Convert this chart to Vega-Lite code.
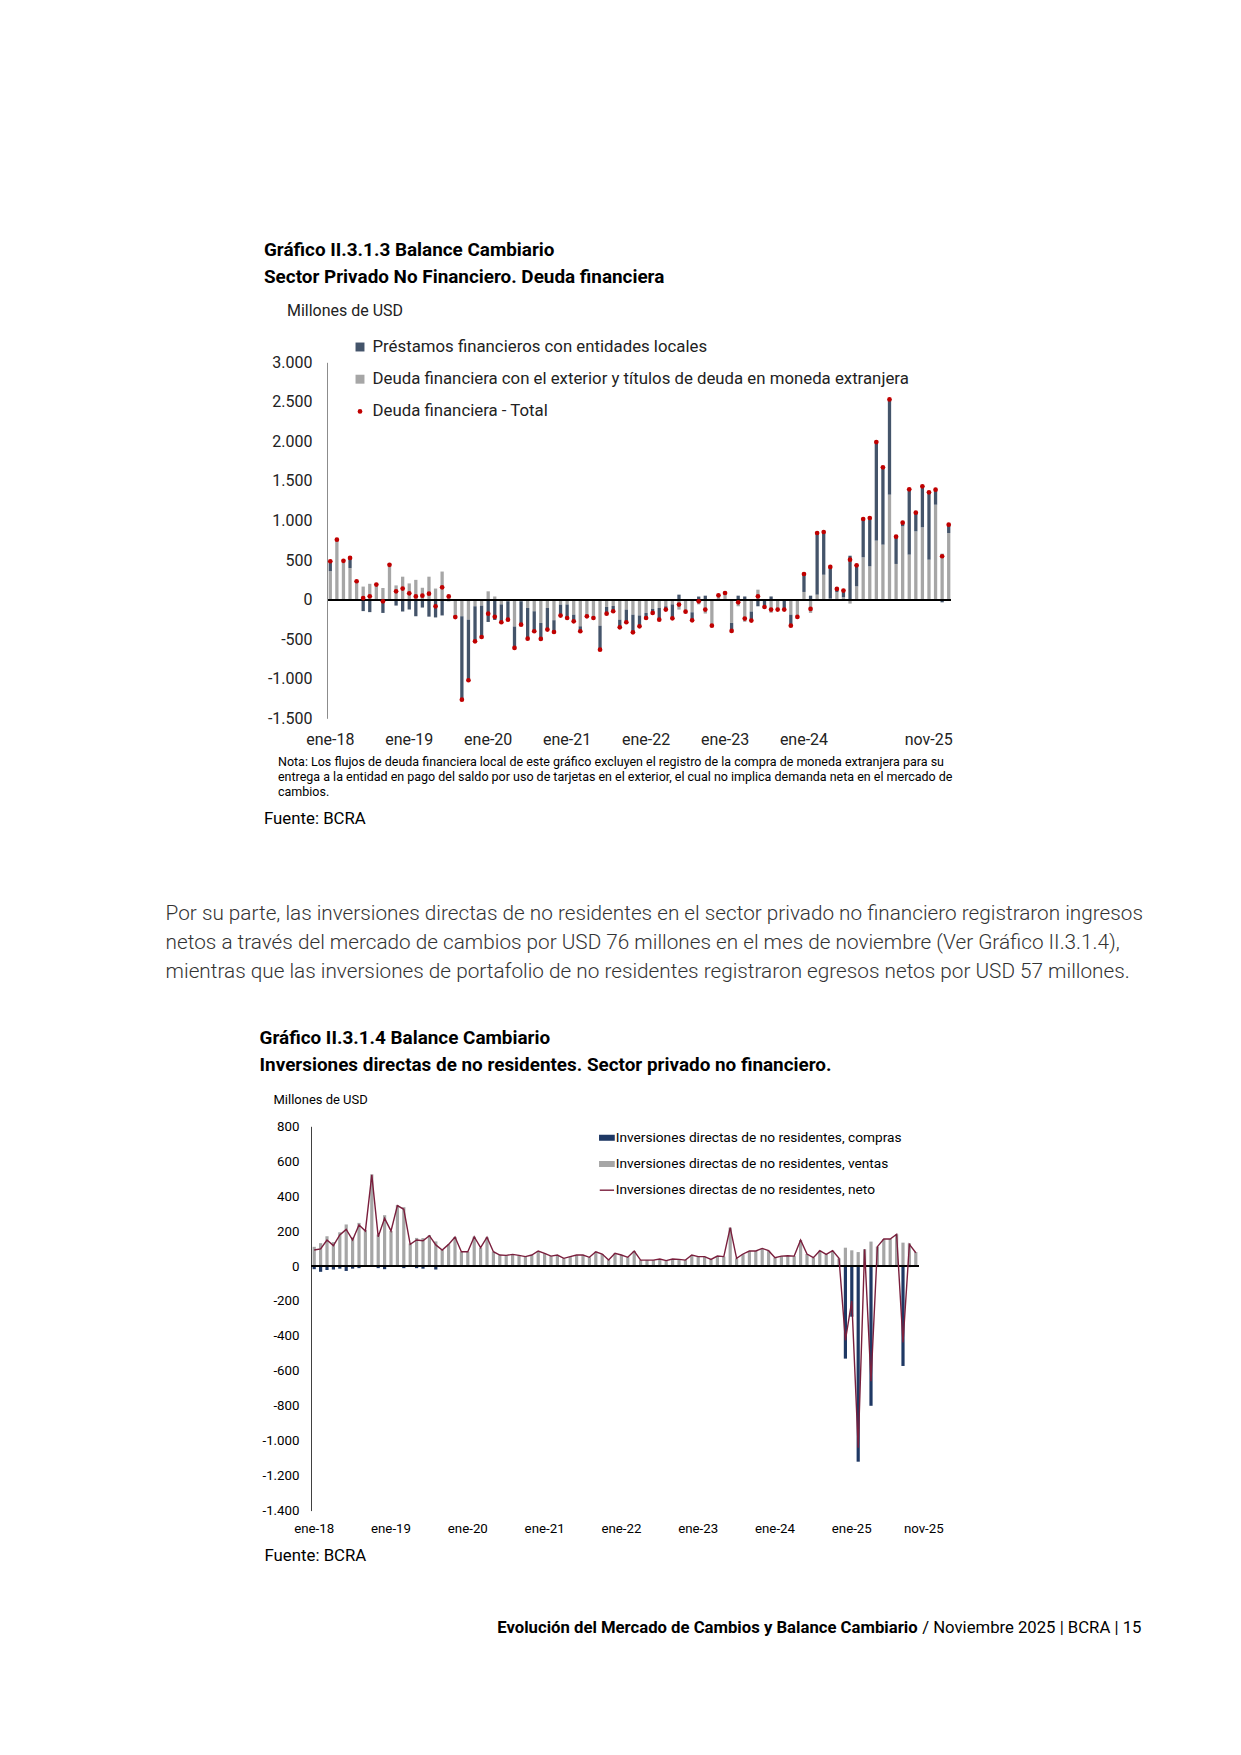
{
  "$schema": "https://vega.github.io/schema/vega-lite/v6.json",
  "autosize": {"type": "none"},
  "padding": {"left": 311, "top": 362.3, "right": 930, "bottom": 1393},
  "background": "white",
  "bounds": "flush",
  "spacing": 0,
  "resolve": {"scale": {"color": "independent", "x": "independent", "y": "independent"}, "legend": {"color": "independent"}},
  "config": {
    "font": "Roboto",
    "view": {"stroke": null},
    "axis": {"labelFont": "Roboto", "titleFont": "Roboto", "labelOverlap": false},
    "axisY": {"labelOverlap": false},
    "legend": {"labelFont": "Roboto", "titleFont": "Roboto"},
    "title": {"font": "Roboto", "subtitleFont": "Roboto", "color": "#000000"}
  },
  "datasets": {
    "deuda": [
      {"mes": "2018-01", "G": 360, "L": 125, "T": 485},
      {"mes": "2018-02", "G": 758, "L": 0, "T": 758},
      {"mes": "2018-03", "G": 490, "L": 0, "T": 490},
      {"mes": "2018-04", "G": 400, "L": 127, "T": 527},
      {"mes": "2018-05", "G": 232, "L": 0, "T": 232},
      {"mes": "2018-06", "G": 165, "L": -145, "T": 20},
      {"mes": "2018-07", "G": 200, "L": -158, "T": 42},
      {"mes": "2018-08", "G": 190, "L": 0, "T": 190},
      {"mes": "2018-09", "G": 147, "L": -168, "T": -21},
      {"mes": "2018-10", "G": 450, "L": -10, "T": 440},
      {"mes": "2018-11", "G": 180, "L": -75, "T": 105},
      {"mes": "2018-12", "G": 290, "L": -150, "T": 140},
      {"mes": "2019-01", "G": 205, "L": -125, "T": 80},
      {"mes": "2019-02", "G": 250, "L": -210, "T": 40},
      {"mes": "2019-03", "G": 150, "L": -100, "T": 50},
      {"mes": "2019-04", "G": 290, "L": -215, "T": 75},
      {"mes": "2019-05", "G": 140, "L": -225, "T": -85},
      {"mes": "2019-06", "G": 355, "L": -200, "T": 155},
      {"mes": "2019-07", "G": 60, "L": -20, "T": 40},
      {"mes": "2019-08", "G": -220, "L": 0, "T": -220},
      {"mes": "2019-09", "G": -210, "L": -1055, "T": -1265},
      {"mes": "2019-10", "G": -253, "L": -766, "T": -1019},
      {"mes": "2019-11", "G": -84, "L": -443, "T": -527},
      {"mes": "2019-12", "G": -76, "L": -396, "T": -472},
      {"mes": "2020-01", "G": 105, "L": -282, "T": -177},
      {"mes": "2020-02", "G": 40, "L": -257, "T": -217},
      {"mes": "2020-03", "G": -60, "L": -226, "T": -286},
      {"mes": "2020-04", "G": -20, "L": -233, "T": -253},
      {"mes": "2020-05", "G": -340, "L": -271, "T": -611},
      {"mes": "2020-06", "G": -20, "L": -296, "T": -316},
      {"mes": "2020-07", "G": -105, "L": -388, "T": -493},
      {"mes": "2020-08", "G": -147, "L": -253, "T": -400},
      {"mes": "2020-09", "G": -295, "L": -202, "T": -497},
      {"mes": "2020-10", "G": -105, "L": -274, "T": -379},
      {"mes": "2020-11", "G": -260, "L": -149, "T": -409},
      {"mes": "2020-12", "G": -63, "L": -139, "T": -202},
      {"mes": "2021-01", "G": -63, "L": -169, "T": -232},
      {"mes": "2021-02", "G": -190, "L": -84, "T": -274},
      {"mes": "2021-03", "G": -337, "L": -63, "T": -400},
      {"mes": "2021-04", "G": -190, "L": -21, "T": -211},
      {"mes": "2021-05", "G": -210, "L": -22, "T": -232},
      {"mes": "2021-06", "G": -329, "L": -303, "T": -632},
      {"mes": "2021-07", "G": -93, "L": -84, "T": -177},
      {"mes": "2021-08", "G": -80, "L": -67, "T": -147},
      {"mes": "2021-09", "G": -253, "L": -97, "T": -350},
      {"mes": "2021-10", "G": -126, "L": -160, "T": -286},
      {"mes": "2021-11", "G": -190, "L": -223, "T": -413},
      {"mes": "2021-12", "G": -200, "L": -137, "T": -337},
      {"mes": "2022-01", "G": -168, "L": -64, "T": -232},
      {"mes": "2022-02", "G": -118, "L": -50, "T": -168},
      {"mes": "2022-03", "G": -105, "L": -148, "T": -253},
      {"mes": "2022-04", "G": -84, "L": -42, "T": -126},
      {"mes": "2022-05", "G": -60, "L": -176, "T": -236},
      {"mes": "2022-06", "G": -126, "L": 63, "T": -63},
      {"mes": "2022-07", "G": -152, "L": 0, "T": -152},
      {"mes": "2022-08", "G": -160, "L": -101, "T": -261},
      {"mes": "2022-09", "G": -60, "L": 39, "T": -21},
      {"mes": "2022-10", "G": -176, "L": 50, "T": -126},
      {"mes": "2022-11", "G": -329, "L": 0, "T": -329},
      {"mes": "2022-12", "G": 55, "L": 0, "T": 55},
      {"mes": "2023-01", "G": 100, "L": -16, "T": 84},
      {"mes": "2023-02", "G": -295, "L": -101, "T": -396},
      {"mes": "2023-03", "G": -84, "L": 50, "T": -34},
      {"mes": "2023-04", "G": -280, "L": 40, "T": -240},
      {"mes": "2023-05", "G": -150, "L": -115, "T": -265},
      {"mes": "2023-06", "G": 126, "L": -84, "T": 42},
      {"mes": "2023-07", "G": 0, "L": -93, "T": -93},
      {"mes": "2023-08", "G": -166, "L": 40, "T": -126},
      {"mes": "2023-09", "G": -126, "L": 0, "T": -126},
      {"mes": "2023-10", "G": -16, "L": -110, "T": -126},
      {"mes": "2023-11", "G": -190, "L": -139, "T": -329},
      {"mes": "2023-12", "G": -200, "L": -19, "T": -219},
      {"mes": "2024-01", "G": 97, "L": 227, "T": 324},
      {"mes": "2024-02", "G": -168, "L": 50, "T": -118},
      {"mes": "2024-03", "G": 63, "L": 779, "T": 842},
      {"mes": "2024-04", "G": 316, "L": 539, "T": 855},
      {"mes": "2024-05", "G": 13, "L": 400, "T": 413},
      {"mes": "2024-06", "G": 95, "L": 40, "T": 135},
      {"mes": "2024-07", "G": 30, "L": 84, "T": 114},
      {"mes": "2024-08", "G": -50, "L": 555, "T": 505},
      {"mes": "2024-09", "G": 168, "L": 266, "T": 434},
      {"mes": "2024-10", "G": 535, "L": 484, "T": 1019},
      {"mes": "2024-11", "G": 421, "L": 611, "T": 1032},
      {"mes": "2024-12", "G": 746, "L": 1246, "T": 1992},
      {"mes": "2025-01", "G": 695, "L": 977, "T": 1672},
      {"mes": "2025-02", "G": 1327, "L": 1204, "T": 2531},
      {"mes": "2025-03", "G": 451, "L": 345, "T": 796},
      {"mes": "2025-04", "G": 927, "L": 46, "T": 973},
      {"mes": "2025-05", "G": 569, "L": 825, "T": 1394},
      {"mes": "2025-06", "G": 863, "L": 236, "T": 1099},
      {"mes": "2025-07", "G": 914, "L": 518, "T": 1432},
      {"mes": "2025-08", "G": 505, "L": 851, "T": 1356},
      {"mes": "2025-09", "G": 1200, "L": 190, "T": 1390},
      {"mes": "2025-10", "G": 582, "L": -34, "T": 548},
      {"mes": "2025-11", "G": 842, "L": 106, "T": 948}
    ],
    "inv": [
      {"mes": "2018-01", "C": -18, "V": 110, "N": 92},
      {"mes": "2018-02", "C": -33, "V": 131, "N": 98},
      {"mes": "2018-03", "C": -22, "V": 171, "N": 149},
      {"mes": "2018-04", "C": -20, "V": 137, "N": 117},
      {"mes": "2018-05", "C": -15, "V": 193, "N": 178},
      {"mes": "2018-06", "C": -28, "V": 238, "N": 210},
      {"mes": "2018-07", "C": -15, "V": 164, "N": 149},
      {"mes": "2018-08", "C": -12, "V": 247, "N": 235},
      {"mes": "2018-09", "C": -5, "V": 206, "N": 201},
      {"mes": "2018-10", "C": -3, "V": 525, "N": 522},
      {"mes": "2018-11", "C": -12, "V": 180, "N": 168},
      {"mes": "2018-12", "C": -18, "V": 291, "N": 273},
      {"mes": "2019-01", "C": 0, "V": 201, "N": 201},
      {"mes": "2019-02", "C": -3, "V": 349, "N": 346},
      {"mes": "2019-03", "C": -12, "V": 337, "N": 325},
      {"mes": "2019-04", "C": -5, "V": 129, "N": 124},
      {"mes": "2019-05", "C": -12, "V": 161, "N": 149},
      {"mes": "2019-06", "C": -15, "V": 160, "N": 145},
      {"mes": "2019-07", "C": -3, "V": 177, "N": 174},
      {"mes": "2019-08", "C": -20, "V": 141, "N": 121},
      {"mes": "2019-09", "C": 0, "V": 92, "N": 92},
      {"mes": "2019-10", "C": 0, "V": 124, "N": 124},
      {"mes": "2019-11", "C": 0, "V": 166, "N": 166},
      {"mes": "2019-12", "C": 0, "V": 82, "N": 82},
      {"mes": "2020-01", "C": 0, "V": 82, "N": 82},
      {"mes": "2020-02", "C": 0, "V": 168, "N": 168},
      {"mes": "2020-03", "C": 0, "V": 105, "N": 105},
      {"mes": "2020-04", "C": 0, "V": 165, "N": 165},
      {"mes": "2020-05", "C": 0, "V": 82, "N": 82},
      {"mes": "2020-06", "C": 0, "V": 63, "N": 63},
      {"mes": "2020-07", "C": 0, "V": 61, "N": 61},
      {"mes": "2020-08", "C": 0, "V": 67, "N": 67},
      {"mes": "2020-09", "C": 0, "V": 61, "N": 61},
      {"mes": "2020-10", "C": 0, "V": 54, "N": 54},
      {"mes": "2020-11", "C": 0, "V": 63, "N": 63},
      {"mes": "2020-12", "C": 0, "V": 86, "N": 86},
      {"mes": "2021-01", "C": 0, "V": 73, "N": 73},
      {"mes": "2021-02", "C": 0, "V": 57, "N": 57},
      {"mes": "2021-03", "C": 0, "V": 63, "N": 63},
      {"mes": "2021-04", "C": 0, "V": 44, "N": 44},
      {"mes": "2021-05", "C": 0, "V": 54, "N": 54},
      {"mes": "2021-06", "C": 0, "V": 63, "N": 63},
      {"mes": "2021-07", "C": 0, "V": 63, "N": 63},
      {"mes": "2021-08", "C": 0, "V": 50, "N": 50},
      {"mes": "2021-09", "C": 0, "V": 82, "N": 82},
      {"mes": "2021-10", "C": 0, "V": 69, "N": 69},
      {"mes": "2021-11", "C": 0, "V": 34, "N": 34},
      {"mes": "2021-12", "C": 0, "V": 73, "N": 73},
      {"mes": "2022-01", "C": 0, "V": 63, "N": 63},
      {"mes": "2022-02", "C": 0, "V": 50, "N": 50},
      {"mes": "2022-03", "C": 0, "V": 86, "N": 86},
      {"mes": "2022-04", "C": 0, "V": 34, "N": 34},
      {"mes": "2022-05", "C": 0, "V": 34, "N": 34},
      {"mes": "2022-06", "C": 0, "V": 34, "N": 34},
      {"mes": "2022-07", "C": 0, "V": 40, "N": 40},
      {"mes": "2022-08", "C": 0, "V": 31, "N": 31},
      {"mes": "2022-09", "C": 0, "V": 40, "N": 40},
      {"mes": "2022-10", "C": 0, "V": 38, "N": 38},
      {"mes": "2022-11", "C": 0, "V": 34, "N": 34},
      {"mes": "2022-12", "C": 0, "V": 63, "N": 63},
      {"mes": "2023-01", "C": 0, "V": 54, "N": 54},
      {"mes": "2023-02", "C": 0, "V": 54, "N": 54},
      {"mes": "2023-03", "C": 0, "V": 38, "N": 38},
      {"mes": "2023-04", "C": 0, "V": 57, "N": 57},
      {"mes": "2023-05", "C": 0, "V": 54, "N": 54},
      {"mes": "2023-06", "C": 0, "V": 220, "N": 220},
      {"mes": "2023-07", "C": 0, "V": 44, "N": 44},
      {"mes": "2023-08", "C": 0, "V": 69, "N": 69},
      {"mes": "2023-09", "C": 0, "V": 86, "N": 86},
      {"mes": "2023-10", "C": 0, "V": 86, "N": 86},
      {"mes": "2023-11", "C": 0, "V": 101, "N": 101},
      {"mes": "2023-12", "C": 0, "V": 88, "N": 88},
      {"mes": "2024-01", "C": 0, "V": 48, "N": 48},
      {"mes": "2024-02", "C": 0, "V": 57, "N": 57},
      {"mes": "2024-03", "C": 0, "V": 59, "N": 59},
      {"mes": "2024-04", "C": 0, "V": 57, "N": 57},
      {"mes": "2024-05", "C": 0, "V": 149, "N": 149},
      {"mes": "2024-06", "C": 0, "V": 69, "N": 69},
      {"mes": "2024-07", "C": 0, "V": 48, "N": 48},
      {"mes": "2024-08", "C": 0, "V": 88, "N": 88},
      {"mes": "2024-09", "C": 0, "V": 67, "N": 67},
      {"mes": "2024-10", "C": 0, "V": 88, "N": 88},
      {"mes": "2024-11", "C": 0, "V": 44, "N": 44},
      {"mes": "2024-12", "C": -530, "V": 105, "N": -425},
      {"mes": "2025-01", "C": -290, "V": 90, "N": -200},
      {"mes": "2025-02", "C": -1120, "V": 80, "N": -1040},
      {"mes": "2025-03", "C": 0, "V": 96, "N": 96},
      {"mes": "2025-04", "C": -800, "V": 140, "N": -660},
      {"mes": "2025-05", "C": 0, "V": 111, "N": 111},
      {"mes": "2025-06", "C": 0, "V": 155, "N": 155},
      {"mes": "2025-07", "C": 0, "V": 155, "N": 155},
      {"mes": "2025-08", "C": 0, "V": 182, "N": 182},
      {"mes": "2025-09", "C": -572, "V": 134, "N": -438},
      {"mes": "2025-10", "C": -6, "V": 130, "N": 124},
      {"mes": "2025-11", "C": -4, "V": 80, "N": 76}
    ]
  },
  "vconcat": [
    {
      "width": 641,
      "height": 356,
      "data": {"name": "deuda"},
      "title": {
        "text": ["Gráfico II.3.1.3 Balance Cambiario", "Sector Privado No Financiero. Deuda financiera"],
        "anchor": "start", "frame": "group", "dx": -47, "offset": 15.8,
        "fontSize": 18.9, "fontWeight": "bold", "lineHeight": 27, "color": "#000000"
      },
      "layer": [
        {
          "transform": [{"fold": ["G", "L"], "as": ["k", "v"]}],
          "mark": {"type": "bar"},
          "encoding": {
            "x": {
              "field": "mes", "type": "ordinal",
              "scale": {"range": [16, 641], "paddingInner": 0.5, "paddingOuter": 0.25},
              "axis": {
                "labelExpr": "substring(datum.value, 5, 7) === '01' && datum.value < '2025' ? 'ene-' + substring(datum.value, 2, 4) : (datum.value === '2025-11' ? 'nov-25' : '')",
                "labelAngle": 0, "labelFontSize": 16, "labelPadding": 13, "labelColor": "#222222",
                "labelOverlap": false, "labelBound": false,
                "labelAlign": {"condition": {"test": "datum.value === '2025-11'", "value": "right"}, "value": "center"},
                "labelOffset": {"condition": {"test": "datum.value === '2025-11'", "value": 4}, "value": 0},
                "ticks": false, "domain": false, "grid": false,
                "title": ["Nota: Los flujos de deuda financiera local de este gráfico excluyen el registro de la compra de moneda extranjera para su", "entrega a la entidad en pago del saldo por uso de tarjetas en el exterior, el cual no implica demanda neta en el mercado de", "cambios."],
                "titleAnchor": "start", "titleAlign": "left", "titleBaseline": "top",
                "titleX": -33.5, "titleY": 37.4, "titleFontSize": 12.5, "titleFontWeight": "normal",
                "titleLineHeight": 15, "titleColor": "#000000", "titleLimit": 2000
              }
            },
            "y": {
              "field": "v", "type": "quantitative", "stack": "zero",
              "scale": {"domain": [-1500, 3000], "nice": false},
              "axis": {
                "tickCount": 10,
                "labelExpr": "(datum.value < 0 ? '-' : '') + (abs(datum.value) >= 1000 ? floor(abs(datum.value) / 1000) + '.' + substring(toString(1000 + abs(datum.value) % 1000), 1, 4) : toString(abs(datum.value)))",
                "labelFontSize": 16, "labelColor": "#222222", "labelPadding": 15, "labelOverlap": false, "labelBound": false, "labelFlush": false,
                "ticks": false, "grid": false, "domain": true, "domainColor": "#8c8c8c", "domainWidth": 1,
                "offset": -16,
                "title": "Millones de USD", "titleAngle": 0, "titleAlign": "left", "titleBaseline": "top",
                "titleX": -40.5, "titleY": -59.3, "titleFontSize": 16, "titleFontWeight": "normal", "titleColor": "#222222"
              }
            },
            "color": {
              "field": "k", "type": "nominal",
              "scale": {"domain": ["L", "G", "T"], "range": ["#44546a", "#a6a6a6", "#c00000"]},
              "legend": {
                "orient": "none", "legendX": 40.6, "legendY": -23.7, "title": null, "direction": "vertical",
                "labelFontSize": 16.8, "labelColor": "#222222", "labelOffset": 4.1, "rowPadding": 14.2,
                "symbolSize": 80, "symbolStrokeWidth": 0, "labelLimit": 1000, "padding": 0,
                "labelExpr": "datum.value === 'L' ? 'Préstamos financieros con entidades locales' : datum.value === 'G' ? 'Deuda financiera con el exterior y títulos de deuda en moneda extranjera' : 'Deuda financiera - Total'",
                "encode": {"symbols": {"update": {
                  "shape": {"signal": "datum.value === 'T' ? 'circle' : 'square'"},
                  "size": {"signal": "datum.value === 'T' ? 22 : 80"}
                }}}
              }
            },
            "order": {"field": "k", "sort": "ascending"}
          }
        },
        {
          "mark": {"type": "rule", "color": "#000000", "strokeWidth": 1},
          "encoding": {
            "x": {"datum": "2018-01", "type": "ordinal", "bandPosition": 0},
            "x2": {"datum": "2025-11", "bandPosition": 1},
            "y": {"datum": 0, "type": "quantitative"}
          }
        },
        {
          "mark": {"type": "circle", "size": 22, "opacity": 1},
          "encoding": {
            "x": {"field": "mes", "type": "ordinal"},
            "y": {"field": "T", "type": "quantitative"},
            "color": {"datum": "T", "type": "nominal", "legend": null}
          }
        }
      ]
    },
    {
      "width": 641,
      "height": 130,
      "data": {"values": []},
      "mark": "rule",
      "encoding": {},
      "title": {"text": "Fuente: BCRA", "anchor": "start", "frame": "group", "dx": -47, "offset": -109.2, "fontSize": 16.8, "fontWeight": "normal", "color": "#000000"}
    },
    {
      "width": 641,
      "height": 278,
      "data": {"values": []},
      "mark": "rule",
      "encoding": {},
      "title": {
        "text": ["Por su parte, las inversiones directas de no residentes en el sector privado no financiero registraron ingresos", "netos a través del mercado de cambios por USD 76 millones en el mes de noviembre (Ver Gráfico II.3.1.4),", "mientras que las inversiones de portafolio de no residentes registraron egresos netos por USD 57 millones."],
        "anchor": "start", "frame": "group", "dx": -145.4, "offset": -134.4,
        "fontSize": 20.75, "fontWeight": 300, "lineHeight": 29, "color": "#333333"
      }
    },
    {
      "width": 608,
      "height": 384.3,
      "data": {"name": "inv"},
      "title": {
        "text": ["Gráfico II.3.1.4 Balance Cambiario", "Inversiones directas de no residentes. Sector privado no financiero."],
        "anchor": "start", "frame": "group", "dx": -51.4, "offset": 18.6,
        "fontSize": 18.9, "fontWeight": "bold", "lineHeight": 27, "color": "#000000"
      },
      "layer": [
        {
          "transform": [{"fold": ["V", "C"], "as": ["k", "v"]}],
          "mark": {"type": "bar"},
          "encoding": {
            "x": {
              "field": "mes", "type": "ordinal",
              "scale": {"paddingInner": 0.5, "paddingOuter": 0.25},
              "axis": {
                "labelExpr": "substring(datum.value, 5, 7) === '01' ? 'ene-' + substring(datum.value, 2, 4) : (datum.value === '2025-11' ? 'nov-25' : '')",
                "labelAngle": 0, "labelFontSize": 13.3, "labelPadding": 11.4, "labelColor": "#000000",
                "labelOverlap": false, "labelBound": false,
                "labelOffset": {"condition": {"test": "datum.value === '2025-11'", "value": 8}, "value": 0},
                "ticks": false, "domain": false, "grid": false,
                "title": "Fuente: BCRA",
                "titleAnchor": "start", "titleAlign": "left", "titleBaseline": "top",
                "titleX": -47, "titleY": 36.9, "titleFontSize": 16.8, "titleFontWeight": "normal", "titleColor": "#000000"
              }
            },
            "y": {
              "field": "v", "type": "quantitative", "stack": "zero",
              "scale": {"domain": [-1400, 800], "nice": false},
              "axis": {
                "tickCount": 11,
                "labelExpr": "(datum.value < 0 ? '-' : '') + (abs(datum.value) >= 1000 ? floor(abs(datum.value) / 1000) + '.' + substring(toString(1000 + abs(datum.value) % 1000), 1, 4) : toString(abs(datum.value)))",
                "labelFontSize": 13.3, "labelColor": "#000000", "labelPadding": 12, "labelOverlap": false, "labelBound": false, "labelFlush": false,
                "ticks": false, "grid": false, "domain": true, "domainColor": "#404040", "domainWidth": 1,
                "title": "Millones de USD", "titleAngle": 0, "titleAlign": "left", "titleBaseline": "top",
                "titleX": -38, "titleY": -33, "titleFontSize": 13, "titleFontWeight": "normal", "titleColor": "#000000"
              }
            },
            "color": {
              "field": "k", "type": "nominal",
              "scale": {"domain": ["C", "V", "N"], "range": ["#1f3864", "#a6a6a6", "#7a1f3d"]},
              "legend": {
                "orient": "none", "legendX": 287.9, "legendY": 3.5, "title": null, "direction": "vertical",
                "labelFontSize": 13.7, "labelColor": "#000000", "labelOffset": 0.8, "rowPadding": 11.2,
                "symbolSize": 205, "labelLimit": 1000, "padding": 0,
                "labelExpr": "datum.value === 'C' ? 'Inversiones directas de no residentes, compras' : datum.value === 'V' ? 'Inversiones directas de no residentes, ventas' : 'Inversiones directas de no residentes, neto'",
                "encode": {"symbols": {"update": {
                  "shape": {"signal": "datum.value === 'N' ? 'M-1,0H1' : 'M-1,-0.32H1V0.32H-1Z'"},
                  "fill": {"signal": "datum.value === 'C' ? '#1f3864' : datum.value === 'V' ? '#a6a6a6' : 'transparent'"},
                  "stroke": {"signal": "datum.value === 'N' ? '#7a1f3d' : 'transparent'"},
                  "strokeWidth": {"value": 1.4},
                  "size": {"value": 205}
                }}}
              }
            },
            "order": {"field": "k", "sort": "ascending"}
          }
        },
        {
          "mark": {"type": "rule", "color": "#000000", "strokeWidth": 1},
          "encoding": {
            "y": {"datum": 0, "type": "quantitative"}
          }
        },
        {
          "mark": {"type": "line", "strokeWidth": 1.4},
          "encoding": {
            "x": {"field": "mes", "type": "ordinal"},
            "y": {"field": "N", "type": "quantitative"},
            "color": {"datum": "N", "type": "nominal", "legend": null}
          }
        }
      ]
    },
    {
      "hconcat": [
        {
          "width": 606.6,
          "height": 150,
          "data": {"values": []},
          "mark": "rule",
          "encoding": {},
          "title": {"text": "Evolución del Mercado de Cambios y Balance Cambiario", "anchor": "end", "frame": "group", "offset": -125.8, "fontSize": 16.7, "fontWeight": "bold", "color": "#000000"}
        },
        {
          "width": 223.4,
          "height": 150,
          "data": {"values": []},
          "mark": "rule",
          "encoding": {},
          "title": {"text": "/ Noviembre 2025 | BCRA | 15", "anchor": "end", "frame": "group", "offset": -125.8, "fontSize": 16.7, "fontWeight": "normal", "color": "#000000"}
        }
      ],
      "spacing": 0,
      "bounds": "flush"
    }
  ]
}
